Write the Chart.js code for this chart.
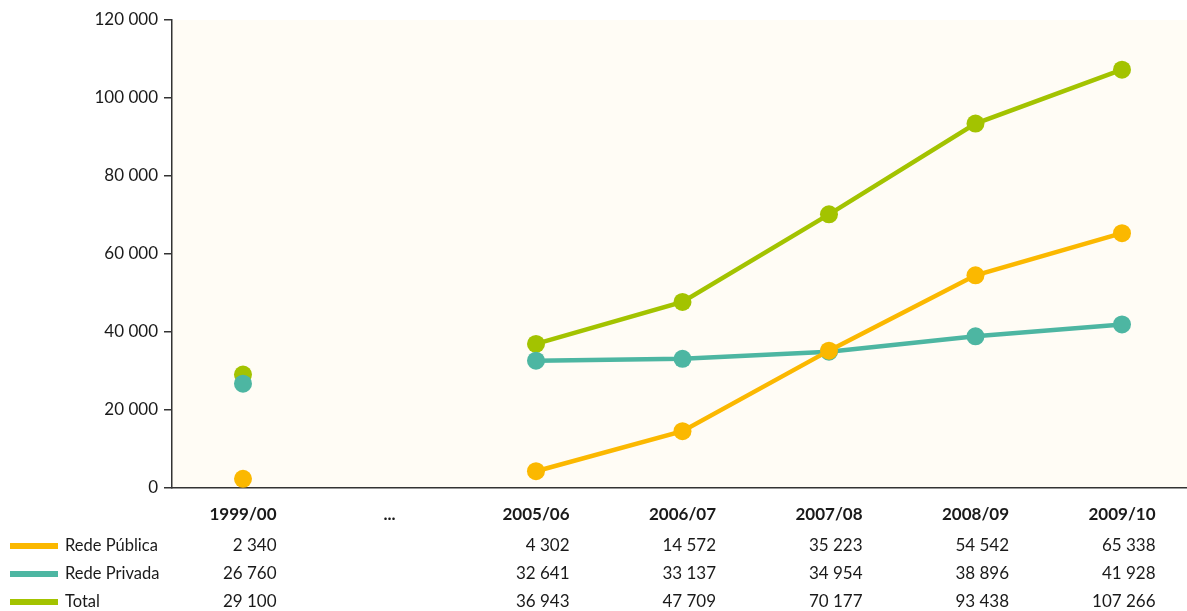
<!DOCTYPE html>
<html>
<head>
<meta charset="utf-8">
<script src="https://cdn.jsdelivr.net/npm/chart.js@4/dist/chart.umd.min.js"></script>
<style>
html,body{margin:0;padding:0;background:#fff;overflow:hidden;}
canvas{display:block;}
</style>
</head>
<body>
<canvas id="c" width="1187" height="611" style="width:1187px;height:611px;"></canvas>
<script>
const categories = ['1999/00', '...', '2005/06', '2006/07', '2007/08', '2008/09', '2009/10'];
const redePublica = [2340, null, 4302, 14572, 35223, 54542, 65338];
const redePrivada = [26760, null, 32641, 33137, 34954, 38896, 41928];
const total = [29100, null, 36943, 47709, 70177, 93438, 107266];
const seriesNames = ['Rede Pública', 'Rede Privada', 'Total'];
const yTicks = [0, 20000, 40000, 60000, 80000, 100000, 120000];

const colors = ['#FBB800', '#4DB6A2', '#A3C300'];
const FONT = 'Lato, "Open Sans", sans-serif';

function fmt(v) {
  if (v === null || v === undefined) return '';
  return String(Math.round(v)).replace(/\B(?=(\d{3})+(?!\d))/g, ' ');
}

const bgPlugin = {
  id: 'bg',
  beforeDraw(chart) {
    const {ctx, chartArea: a} = chart;
    ctx.save();
    ctx.fillStyle = '#FFFCF5';
    ctx.fillRect(a.left, a.top, a.right - a.left, a.bottom - a.top);
    ctx.restore();
  }
};

const tablePlugin = {
  id: 'table',
  afterDraw(chart) {
    const {ctx} = chart;
    const xs = chart.scales.x;
    const rowsY = [546, 574, 602];
    const data = [redePublica, redePrivada, total];
    ctx.save();
    ctx.font = 'bold 17px ' + FONT;
    const labelWidths = categories.map(c => ctx.measureText(c).width);
    ctx.textBaseline = 'middle';
    for (let r = 0; r < 3; r++) {
      const y = rowsY[r];
      ctx.fillStyle = colors[r];
      ctx.fillRect(10, y - 3, 48, 6);
      ctx.fillStyle = '#1a1a1a';
      ctx.font = '16.5px ' + FONT;
      ctx.textAlign = 'left';
      ctx.fillText(seriesNames[r], 65, y);
      ctx.font = '17px ' + FONT;
      ctx.textAlign = 'right';
      for (let i = 0; i < categories.length; i++) {
        const v = data[r][i];
        if (v === null) continue;
        const x = xs.getPixelForValue(i) + labelWidths[i] / 2;
        ctx.fillText(fmt(v), x, y);
      }
    }
    ctx.restore();
  }
};

function ds(label, values, color) {
  return {
    label,
    data: values.map((v, i) => ({x: i, y: v})),
    borderColor: color,
    backgroundColor: color,
    pointBackgroundColor: color,
    pointBorderColor: color,
    borderWidth: 4.5,
    pointRadius: 9,
    pointHoverRadius: 9,
    pointBorderWidth: 0,
    spanGaps: false,
    tension: 0
  };
}

new Chart(document.getElementById('c'), {
  type: 'line',
  data: {
    datasets: [
      ds(seriesNames[0], redePublica, colors[0]),
      ds(seriesNames[1], redePrivada, colors[1]),
      ds(seriesNames[2], total, colors[2])
    ]
  },
  options: {
    responsive: false,
    maintainAspectRatio: false,
    animation: false,
    devicePixelRatio: 1,
    layout: {autoPadding: false, padding: {top: 20, right: 0, bottom: 0, left: 0}},
    plugins: {legend: {display: false}, tooltip: {enabled: false}},
    scales: {
      x: {
        type: 'linear',
        min: -0.4846,
        max: 6.4437,
        afterBuildTicks(scale) { scale.ticks = categories.map((c, i) => ({value: i})); },
        grid: {display: true, drawOnChartArea: false, drawTicks: false, color: 'transparent'},
        border: {display: true, color: '#333', width: 1.5},
        ticks: {
          color: '#1a1a1a',
          font: {family: FONT, size: 17, weight: 'bold'},
          padding: 16,
          maxRotation: 0,
          autoSkip: false,
          callback: v => categories[v]
        },
        afterFit(scale) { scale.height = 123; scale.paddingLeft = 0; scale.paddingRight = 0; }
      },
      y: {
        min: 0, max: 120000,
        afterBuildTicks(scale) { scale.ticks = yTicks.map(v => ({value: v})); },
        grid: {display: true, drawOnChartArea: false, drawTicks: true, tickLength: 8, color: '#333', lineWidth: 1.5},
        border: {display: true, color: '#333', width: 1.5},
        ticks: {
          color: '#1a1a1a',
          font: {family: FONT, size: 17},
          padding: 6,
          callback: v => fmt(v)
        },
        afterFit(scale) { scale.width = 172; scale.paddingTop = 0; scale.paddingBottom = 0; }
      }
    }
  },
  plugins: [bgPlugin, tablePlugin]
});
</script>
</body>
</html>
